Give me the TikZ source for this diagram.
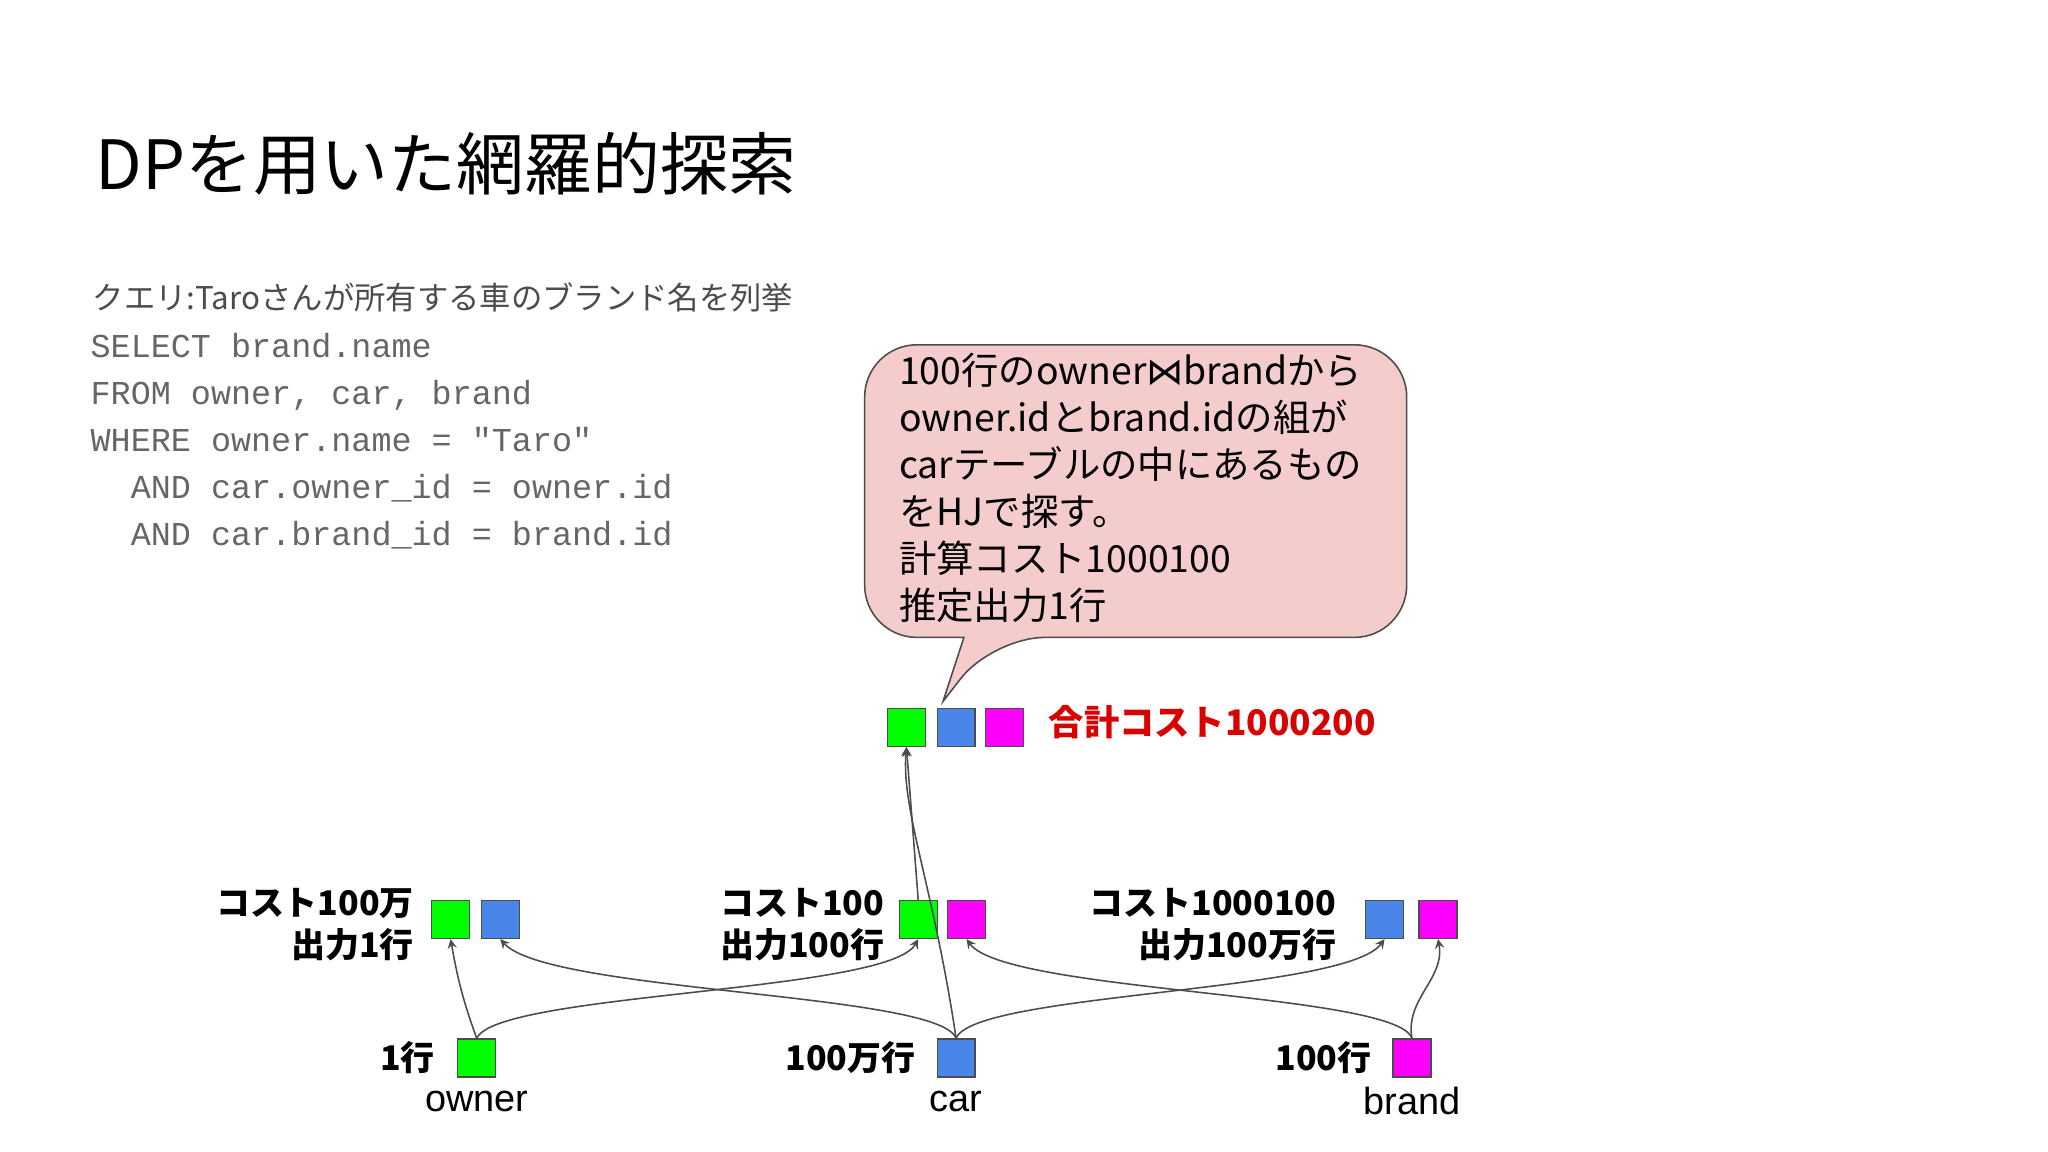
\documentclass[tikz,border=0pt]{standalone}
\usepackage{fontspec}
\setmainfont{Liberation Sans}
\newfontfamily\jp{Noto Sans CJK JP}
\newfontfamily\mono{Liberation Mono}
\newfontfamily\dvfont{DejaVu Sans}
\begin{document}
\begin{tikzpicture}[x=0.5pt,y=-0.5pt,
 sq/.style={draw=black!70,line width=0.5pt,minimum size=14.5pt,inner sep=0pt},
 G/.style={sq,fill={rgb,255:red,0;green,255;blue,0}},
 B/.style={sq,fill={rgb,255:red,74;green,134;blue,232}},
 M/.style={sq,fill={rgb,255:red,255;green,0;blue,255}},
 lab/.style={font=\jp\bfseries\fontsize{13}{16}\selectfont,align=right},
 ar/.style={->,>=stealth,draw=black!70,line width=0.6pt}]
\useasboundingbox (0,0) rectangle (1568,882);
\node[anchor=west,font=\jp\fontsize{26}{30}\selectfont] (t) at (66,125) {DPを用いた網羅的探索};
\node[anchor=west,font=\jp\fontsize{12}{14}\selectfont,text=black!70] (q) at (64,228) {クエリ:Taroさんが所有する車のブランド名を列挙};
\node[anchor=north west,font=\mono\fontsize{12.8}{18}\selectfont,text=black!60,align=left,inner sep=0pt] (code) at (69,255) {SELECT brand.name\\FROM owner, car, brand\\WHERE owner.name = "Taro"\\\ \ AND car.owner\_id = owner.id\\\ \ AND car.brand\_id = brand.id};
% callout
\draw[fill={rgb,255:red,244;green,204;blue,204},draw=black!70,line width=0.6pt,rounded corners=20pt]
 (662,264) -- (1077,264) -- (1077,488) -- (760,488) [sharp corners]-- (722,537) -- (738,488) [rounded corners=20pt]-- (662,488) -- cycle;
\node[anchor=north west,font=\jp\fontsize{14.3}{18}\selectfont,align=left,inner sep=0pt] (c) at (688,270) {100行のowner{\dvfont ⋈}brandから\\owner.idとbrand.idの組が\\carテーブルの中にあるもの\\をHJで探す。\\計算コスト1000100\\推定出力1行};
% top
\node[G] (tg) at (694,557) {};
\node[B] (tb) at (732,557) {};
\node[M] (tm) at (769,557) {};
\node[anchor=west,font=\jp\bfseries\fontsize{13.5}{16}\selectfont,text=red!85!black] (tot) at (796,553) {合計コスト1000200};
% middle
\node[G] (lg) at (345,704) {}; \node[B] (lb) at (383,704) {};
\node[G] (cg) at (703,704) {}; \node[M] (cm) at (740,704) {};
\node[B] (rb) at (1060,704) {}; \node[M] (rm) at (1101,704) {};
\node[lab,anchor=east] (ll) at (324,708) {コスト100万\\出力1行};
\node[lab,anchor=east] (cl) at (684,708) {コスト100\\出力100行};
\node[lab,anchor=east] (rl) at (1030,708) {コスト1000100\\出力100万行};
% bottom
\node[G] (o) at (365,810) {}; \node[B] (c2) at (732,810) {}; \node[M] (b) at (1081,810) {};
\node[lab,anchor=east] at (340,810) {1行};
\node[lab,anchor=east] at (708,810) {100万行};
\node[lab,anchor=east] at (1057,810) {100行};
\node[font=\fontsize{14.5}{16}\selectfont] (on) at (365,843) {owner};
\node[font=\fontsize{14.5}{16}\selectfont] (cn) at (732,843) {car};
\node[font=\fontsize{14.5}{16}\selectfont] (bn) at (1081,843) {brand};
% arrows
\draw[ar] (o.north) to[out=110,in=-80] (lg.south);
\draw[ar] (o.north) .. controls (380,760) and (680,760) .. (cg.south);
\draw[ar] (c2.north) .. controls (720,760) and (420,760) .. (lb.south);
\draw[ar] (c2.north) .. controls (745,760) and (1030,760) .. (rb.south);
\draw[ar] (c2.north) .. controls (715,680) and (690,620) .. (tg.south);
\draw[ar] (cg.north) -- (tg.south);
\draw[ar] (b.north) .. controls (1070,760) and (770,760) .. (cm.south);
\draw[ar] (b.north) to[out=100,in=-80] (rm.south);
\end{tikzpicture}
\end{document}
